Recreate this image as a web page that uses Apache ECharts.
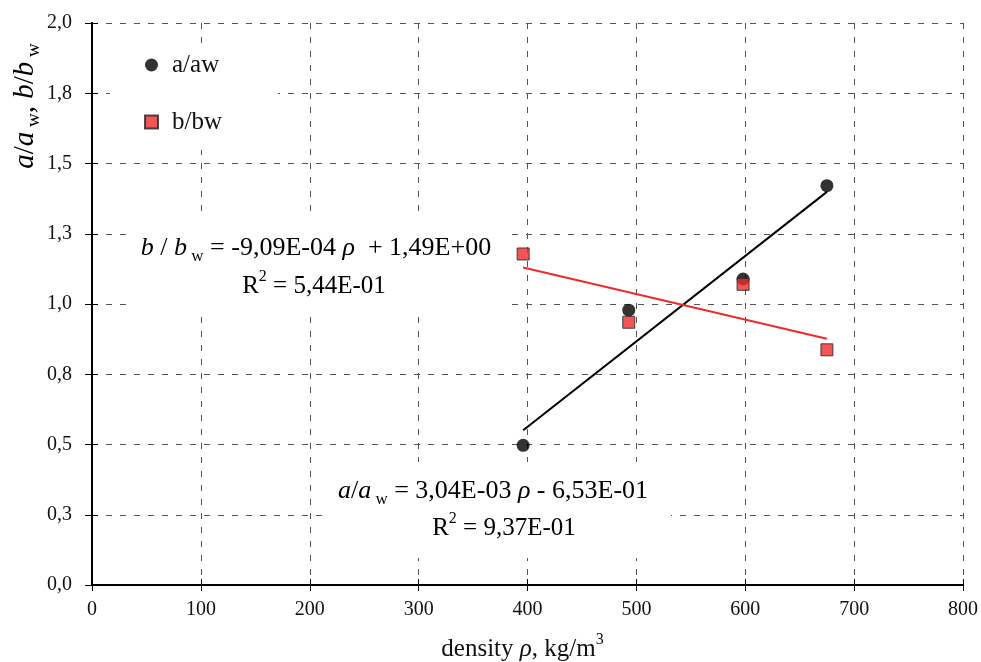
<!DOCTYPE html>
<html>
<head>
<meta charset="utf-8">
<script src="https://cdn.jsdelivr.net/npm/echarts@6/dist/echarts.min.js"></script>
<style>
  html, body { margin: 0; padding: 0; background: #fff; }
  #chart { width: 981px; height: 662px; }
</style>
</head>
<body>
<div id="chart"></div>
<script>
// Measured values: relative coefficients vs. wood density
const density = [396, 493, 598, 675];
const aRatio = [0.497, 0.978, 1.089, 1.421];
const bRatio = [1.178, 0.935, 1.070, 0.837];

// Linear trend fits: [slope, intercept], and coefficient of determination
const fitA = [3.04e-3, -6.53e-1];
const fitB = [-9.09e-4, 1.49e+0];
const r2A = 9.37e-1;
const r2B = 5.44e-1;

// Axis ranges and ticks
const xRange = [0, 800, 100];
const yRange = [0, 2, 0.25];

const FONT = '"Liberation Serif", "Times New Roman", serif';
const TEXT = '#111';

// Excel-style scientific notation with decimal comma: 3,04E-03
function sci(v) {
  const s = Math.abs(v).toExponential(2);
  const parts = s.split('e');
  const exp = parseInt(parts[1], 10);
  const expStr = (exp < 0 ? '-' : '+') + String(Math.abs(exp)).padStart(2, '0');
  return (v < 0 ? '-' : '') + parts[0].replace('.', ',') + 'E' + expStr;
}
function signed(v) {
  return (v < 0 ? ' - ' : ' + ') + sci(Math.abs(v));
}

function fitLine(fit) {
  const x0 = Math.min.apply(null, density);
  const x1 = Math.max.apply(null, density);
  return [[x0, fit[0] * x0 + fit[1]], [x1, fit[0] * x1 + fit[1]]];
}

// rich-text styles at a given base size
function richAt(size) {
  const sub = Math.round(size * 0.65);
  return {
    n: { fontFamily: FONT, fontSize: size, color: TEXT },
    i: { fontFamily: FONT, fontSize: size, color: TEXT, fontStyle: 'italic' },
    s: { fontFamily: FONT, fontSize: sub, color: TEXT, verticalAlign: 'bottom', padding: [0, 0, -Math.round(size * 0.15), 0] },
    p: { fontFamily: FONT, fontSize: sub, color: TEXT, verticalAlign: 'top', padding: [-Math.round(size * 0.2), 0, 0, 0] }
  };
}
const richEq = richAt(26);
const richR2 = richAt(25);
const richAxis = richAt(25);
const richY = richAt(29);

const chart = echarts.init(document.getElementById('chart'));

const gridLine = { show: true, lineStyle: { color: '#555', type: [6, 8], width: 1 } };
const frameLine = { show: true, lineStyle: { color: '#000', width: 2 } };

chart.setOption({
  backgroundColor: '#fff',
  animation: false,
  grid: { left: 92, right: 18, top: 23, bottom: 77, outerBoundsMode: 'none', containLabel: false },
  legend: {
    data: [
      { name: 'a/aw', icon: 'circle' },
      { name: 'b/bw', icon: 'rect' }
    ],
    orient: 'vertical',
    left: 110,
    top: 43,
    backgroundColor: '#fff',
    padding: [9, 56, 15, 34],
    itemWidth: 13,
    itemHeight: 13,
    itemGap: 31,
    textStyle: { fontFamily: FONT, fontSize: 25, lineHeight: 26, color: TEXT, padding: [0, 0, 0, 9] }
  },
  xAxis: [
    {
      type: 'value', min: xRange[0], max: xRange[1], interval: xRange[2],
      position: 'bottom',
      axisLine: frameLine,
      axisTick: { show: true, inside: false, length: 6, lineStyle: { color: '#000', width: 1 } },
      axisLabel: { fontFamily: FONT, fontSize: 20, color: TEXT, margin: 15 },
      splitLine: gridLine,
      name: '{n|density }{i|ρ}{n|, kg/m}{p|3}',
      nameLocation: 'middle',
      nameGap: 52,
      nameTextStyle: { rich: richAxis, padding: [0, 10, 0, 0] }
    },
    {
      type: 'value', min: xRange[0], max: xRange[1], interval: xRange[2],
      position: 'bottom',
      axisLine: { show: false },
      axisTick: { show: true, inside: true, length: 6, lineStyle: { color: '#000', width: 1 } },
      axisLabel: { show: false },
      splitLine: { show: false }
    },
    {
      type: 'value', min: xRange[0], max: xRange[1], interval: xRange[2],
      position: 'top',
      axisLine: frameLine,
      axisTick: { show: false },
      axisLabel: { show: false },
      splitLine: { show: false }
    }
  ],
  yAxis: [
    {
      type: 'value', min: yRange[0], max: yRange[1], interval: yRange[2],
      position: 'left',
      axisLine: frameLine,
      axisTick: { show: true, inside: false, length: 7, lineStyle: { color: '#000', width: 1 } },
      axisLabel: {
        fontFamily: FONT, fontSize: 20, color: TEXT, margin: 20,
        formatter: function (v) { return v.toFixed(1).replace('.', ','); }
      },
      splitLine: gridLine
    },
    {
      type: 'value', min: yRange[0], max: yRange[1], interval: yRange[2],
      position: 'left',
      axisLine: { show: false },
      axisTick: { show: true, inside: true, length: 6, lineStyle: { color: '#000', width: 1 } },
      axisLabel: { show: false },
      splitLine: { show: false }
    },
    {
      type: 'value', min: yRange[0], max: yRange[1], interval: yRange[2],
      position: 'right',
      axisLine: frameLine,
      axisTick: { show: false },
      axisLabel: { show: false },
      splitLine: { show: false }
    }
  ],
  series: [
    {
      name: 'a fit', type: 'line', data: fitLine(fitA),
      showSymbol: false, symbol: 'none',
      lineStyle: { color: '#000', width: 2 }, z: 2
    },
    {
      name: 'b fit', type: 'line', data: fitLine(fitB),
      showSymbol: false, symbol: 'none',
      lineStyle: { color: '#ee2a2a', width: 2 }, z: 2
    },
    {
      name: 'a/aw', type: 'scatter', symbol: 'circle', symbolSize: 13,
      data: density.map(function (x, k) { return [x, aRatio[k]]; }),
      itemStyle: { color: '#000' }, z: 3
    },
    {
      name: 'b/bw', type: 'scatter', symbol: 'rect', symbolSize: 12,
      data: density.map(function (x, k) { return [x, bRatio[k]]; }),
      itemStyle: { color: '#ee2a2a', borderColor: '#222', borderWidth: 1 }, z: 4
    }
  ],
  graphic: [
    // y-axis title
    {
      type: 'text', x: 25, y: 106, rotation: Math.PI / 2, z: 5,
      style: {
        text: '{i|a}{n|/}{i|a}{s| w}{n|, }{i|b}{n|/}{i|b}{s| w}',
        rich: richY, align: 'center', verticalAlign: 'middle'
      }
    },
    // fit annotation for b/bw
    { type: 'rect', shape: { x: 127, y: 212, width: 384, height: 104 }, style: { fill: '#fff' }, z: 1 },
    {
      type: 'text', x: 316, y: 248, z: 5,
      style: {
        text: '{i|b}{n| / }{i|b}{s| w}{n| = ' + sci(fitB[0]) + ' }{i|ρ}{n| ' + signed(fitB[1]) + '}',
        rich: richEq, align: 'center', verticalAlign: 'middle'
      }
    },
    {
      type: 'text', x: 314, y: 286, z: 5,
      style: {
        text: '{n|R}{p|2}{n| = ' + sci(r2B) + '}',
        rich: richR2, align: 'center', verticalAlign: 'middle'
      }
    },
    // fit annotation for a/aw
    { type: 'rect', shape: { x: 325, y: 462, width: 346, height: 96 }, style: { fill: '#fff' }, z: 1 },
    {
      type: 'text', x: 493, y: 491, z: 5,
      style: {
        text: '{i|a}{n|/}{i|a}{s| w}{n| = ' + sci(fitA[0]) + ' }{i|ρ}{n|' + signed(fitA[1]) + '}',
        rich: richEq, align: 'center', verticalAlign: 'middle'
      }
    },
    {
      type: 'text', x: 504, y: 528, z: 5,
      style: {
        text: '{n|R}{p|2}{n| = ' + sci(r2A) + '}',
        rich: richR2, align: 'center', verticalAlign: 'middle'
      }
    }
  ]
});
</script>
</body>
</html>
